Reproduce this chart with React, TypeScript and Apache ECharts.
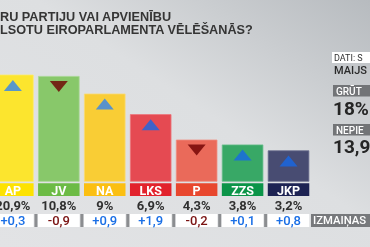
import React, { useEffect, useRef } from "react";
import * as echarts from "echarts";

const categories = ["AP", "JV", "NA", "LKS", "P", "ZZS", "JKP"];
const values = [20.9, 10.8, 9, 6.9, 4.3, 3.8, 3.2];
const changes = [0.3, -0.9, 0.9, 1.9, -0.2, 0.1, 0.8];
const barColors = ["#fce52e", "#88c86a", "#f9cd35", "#e54a52", "#ea6a5a", "#38a866", "#484c72"];
const barBorders = ["#fdec6a", "#a6d792", "#fbdb72", "#ec767c", "#f08e82", "#68bf8c", "#6a6d8e"];
const stripColors = ["#fde200", "#6cbb45", "#fbbf12", "#e2222c", "#e8472e", "#0b9448", "#1d2353"];
const upColors = ["#2f83f0", "#2f83f0", "#2f83f0", "#1768e6", "#1768e6", "#1768e6", "#1768e6"];
const titleLines = ["RU PARTIJU VAI APVIENĪBU", "LSOTU EIROPARLAMENTA VĒLĒŠANĀS?"];
const sideTexts = { source: "DATI: S", month: "MAIJS", hard: "GRŪT", hardVal: "18%", no: "NEPIE", noVal: "13,9", change: "IZMAIŅAS" };

const Y_MAX = 10.9;
const FONT = "Roboto, 'Liberation Sans', Arial, sans-serif";
const TFONT = "'Liberation Sans', Arial, sans-serif";

const fmt = (v: number) => String(v).replace(".", ",");

export default function App() {
  const ref = useRef<HTMLDivElement>(null);
  useEffect(() => {
    const chart = echarts.init(ref.current!, null, { renderer: "svg" });
    const option: any = {
      animation: false,
      grid: { left: 0, top: 75, width: 311.5, height: 106.7 },
      xAxis: { type: "value", min: -0.28, max: 6.5, show: false },
      yAxis: { type: "value", min: 0, max: Y_MAX, show: false },
      graphic: [
        {
          type: "rect",
          z: -10,
          shape: { x: 0, y: 0, width: 370, height: 247 },
          style: {
            fill: new echarts.graphic.LinearGradient(0, 1, 1, 0, [
              { offset: 0, color: "#e2e3e5" },
              { offset: 0.55, color: "#dddfe1" },
              { offset: 1, color: "#b7bbbf" },
            ]),
          },
        },
        { type: "text", x: 0, y: 17, style: { text: titleLines[0], font: `bold 12.7px ${TFONT}`, lineHeight: 12, fill: "#353535", verticalAlign: "middle" } },
        { type: "text", x: 0, y: 29.5, style: { text: titleLines[1], font: `bold 12.7px ${TFONT}`, lineHeight: 12, fill: "#353535", verticalAlign: "middle" } },
        { type: "rect", shape: { x: 332, y: 52, width: 40, height: 11 }, style: { fill: "#ffffff" } },
        { type: "text", x: 334, y: 57.5, style: { text: sideTexts.source, font: `9px ${FONT}`, fill: "#333", verticalAlign: "middle" } },
        { type: "text", x: 334, y: 70.5, style: { text: sideTexts.month, font: `500 11px ${FONT}`, fill: "#2a2a2a", verticalAlign: "middle" } },
        { type: "rect", shape: { x: 333, y: 85, width: 40, height: 11.5 }, style: { fill: "#727477" } },
        { type: "text", x: 336, y: 91, style: { text: sideTexts.hard, font: `500 10px ${FONT}`, fill: "#ffffff", verticalAlign: "middle" } },
        { type: "text", x: 333, y: 108, style: { text: sideTexts.hardVal, font: `bold 19px ${FONT}`, fill: "#252525", verticalAlign: "middle" } },
        { type: "rect", shape: { x: 333, y: 124, width: 40, height: 11.5 }, style: { fill: "#727477" } },
        { type: "text", x: 336, y: 130, style: { text: sideTexts.no, font: `500 10px ${FONT}`, fill: "#ffffff", verticalAlign: "middle" } },
        { type: "text", x: 333, y: 146, style: { text: sideTexts.noVal, font: `bold 19px ${FONT}`, fill: "#252525", verticalAlign: "middle" } },
        { type: "rect", shape: { x: 311, y: 214, width: 60, height: 13 }, style: { fill: "#77797c" } },
        { type: "text", x: 313, y: 220.8, style: { text: sideTexts.change, font: `500 11.3px ${FONT}`, fill: "#ffffff", verticalAlign: "middle" } },
      ],
      series: [
        {
          type: "bar",
          barWidth: 41.5,
          data: values.map((v, i) => ({
            value: [i, v],
            itemStyle: { color: barColors[i], borderColor: barBorders[i], borderWidth: 0.8 },
          })),
          z: 2,
        },
        {
          type: "scatter",
          z: 3,
          data: values.map((v, i) => ({
            value: [i, Math.min(v, Y_MAX)],
            symbol: "triangle",
            symbolSize: [18, 11],
            symbolRotate: changes[i] < 0 ? 180 : 0,
            symbolOffset: [0, 10.5],
            itemStyle: { color: changes[i] < 0 ? "#6e0000" : upColors[i] },
          })),
        },
        {
          type: "custom",
          z: 4,
          clip: false,
          data: values.map((v, i) => [i, 0, v, changes[i]]),
          encode: { x: 0, y: 1 },
          renderItem: (params: any, api: any) => {
            const i = api.value(0);
            const v = api.value(2);
            const c = api.value(3);
            const [cx, by] = api.coord([i, 0]);
            const w = 41.5;
            const x0 = cx - w / 2;
            const children: any[] = [
              { type: "rect", shape: { x: x0, y: by + 1.6, width: w, height: 12.7 }, style: { fill: stripColors[i] } },
              {
                type: "text",
                style: {
                  text: categories[i], x: cx, y: by + 8.3, align: "center", verticalAlign: "middle",
                  font: `bold 12.5px ${FONT}`, fill: "#ffffff",
                },
              },
              {
                type: "text",
                style: {
                  text: fmt(v) + "%", x: cx, y: by + 23.6, align: "center", verticalAlign: "middle",
                  font: `bold 13px ${FONT}`, fill: "#303030",
                },
              },
              { type: "rect", shape: { x: x0, y: by + 32.3, width: w, height: 13 }, style: { fill: "#ffffff" } },
              {
                type: "text",
                style: {
                  text: (c > 0 ? "+" : "-") + fmt(Math.abs(c)), x: cx, y: by + 39.1, align: "center", verticalAlign: "middle",
                  font: `500 13px ${FONT}`, fill: c < 0 ? "#7a1212" : "#1a6fe6",
                },
              },
            ];
            if (i < categories.length - 1) {
              children.push({ type: "rect", shape: { x: x0 + w + 0.8, y: by + 32.3, width: 3, height: 13 }, style: { fill: "#8b8d90" } });
            }
            return { type: "group", children };
          },
        },
      ],
    };
    chart.setOption(option);
    return () => chart.dispose();
  }, []);
  return <div ref={ref} style={{ position: "fixed", left: 0, top: 0, width: 370, height: 247 }} />;
}
